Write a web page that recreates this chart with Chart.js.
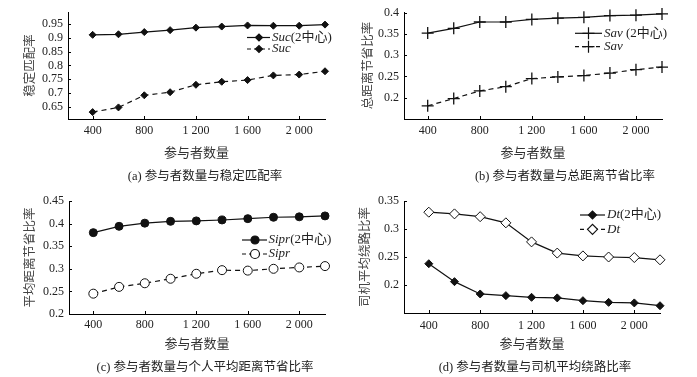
<!DOCTYPE html>
<html>
<head>
<meta charset="utf-8">
<script src="https://cdn.jsdelivr.net/npm/chart.js@4.4.1/dist/chart.umd.min.js"></script>
<style>
  body { margin: 0; background: #fff; width: 697px; height: 377px; position: relative; overflow: hidden; }
  canvas { position: absolute; }
  .cap { position: absolute; font-family: "Liberation Serif", "Noto Sans CJK SC", serif; font-size: 12.5px; color: #222; white-space: nowrap; transform: translate(-50%, -50%); }
</style>
</head>
<body>
<canvas id="ca" width="348" height="188" style="left:0;top:0"></canvas>
<canvas id="cb" width="350" height="188" style="left:347px;top:0"></canvas>
<canvas id="cc" width="348" height="189" style="left:0;top:188px"></canvas>
<canvas id="cd" width="350" height="189" style="left:347px;top:188px"></canvas>
<div class="cap" style="left:205px;top:174px">(a) 参与者数量与稳定匹配率</div>
<div class="cap" style="left:565px;top:174px">(b) 参与者数量与总距离节省比率</div>
<div class="cap" style="left:205px;top:365px">(c) 参与者数量与个人平均距离节省比率</div>
<div class="cap" style="left:535px;top:365px">(d) 参与者数量与司机平均绕路比率</div>
<script>
const X_VALUES = [400, 600, 800, 1000, 1200, 1400, 1600, 1800, 2000, 2200];
const X_TICKS = [400, 800, 1200, 1600, 2000];
const X_TITLE = '参与者数量';

const SUC_2C = [0.911, 0.913, 0.921, 0.928, 0.937, 0.941, 0.945, 0.944, 0.944, 0.948];
const SUC = [0.631, 0.648, 0.692, 0.703, 0.730, 0.741, 0.747, 0.764, 0.767, 0.779];
const SAV_2C = [0.352, 0.363, 0.378, 0.378, 0.384, 0.387, 0.389, 0.393, 0.394, 0.397];
const SAV = [0.181, 0.198, 0.216, 0.226, 0.245, 0.249, 0.252, 0.258, 0.266, 0.272];
const SIPR_2C = [0.380, 0.394, 0.401, 0.405, 0.406, 0.408, 0.411, 0.414, 0.415, 0.417];
const SIPR = [0.245, 0.260, 0.268, 0.278, 0.289, 0.297, 0.296, 0.300, 0.303, 0.306];
const DT_2C = [0.238, 0.206, 0.184, 0.181, 0.178, 0.177, 0.172, 0.169, 0.168, 0.163];
const DT = [0.330, 0.327, 0.322, 0.311, 0.277, 0.257, 0.252, 0.250, 0.249, 0.245];

const Y_TICKS_A = [0.65, 0.7, 0.75, 0.8, 0.85, 0.9, 0.95];
const Y_TICKS_B = [0.2, 0.25, 0.3, 0.35, 0.4];
const Y_TICKS_C = [0.2, 0.25, 0.3, 0.35, 0.4, 0.45];
const Y_TICKS_D = [0.2, 0.25, 0.3, 0.35];

const FONT = "'Liberation Serif', 'Noto Sans CJK SC', serif";
const INK = '#111';

function pts(arr) {
    return X_VALUES.map((x, i) => ({ x: x, y: arr[i] }));
}

function fmtX(v) {
    return v >= 1000 ? String(v).replace(/(\d)(\d{3})$/, '$1 $2') : String(v);
}

// small inward tick marks + two-row legend with line samples
const decorPlugin = {
    id: 'decor',
    afterDraw(chart, args, opts) {
        const ctx = chart.ctx;
        const xs = chart.scales.x, ys = chart.scales.y;
        ctx.save();
        ctx.strokeStyle = '#000';
        ctx.lineWidth = 1;
        ctx.beginPath();
        xs.ticks.forEach(t => {
            const px = Math.round(xs.getPixelForValue(t.value)) + 0.5;
            ctx.moveTo(px, xs.top);
            ctx.lineTo(px, xs.top - 3);
        });
        ys.ticks.forEach(t => {
            const py = Math.round(ys.getPixelForValue(t.value)) + 0.5;
            ctx.moveTo(ys.right, py);
            ctx.lineTo(ys.right + 3, py);
        });
        ctx.stroke();

        (opts.items || []).forEach((it, i) => {
            const y = opts.y + i * opts.gap;
            ctx.strokeStyle = INK;
            ctx.lineWidth = 1.2;
            ctx.setLineDash(it.dash);
            ctx.beginPath();
            ctx.moveTo(opts.x0, y);
            ctx.lineTo(opts.x1, y);
            ctx.stroke();
            ctx.setLineDash([]);
            ctx.fillStyle = it.fill;
            ctx.strokeStyle = INK;
            Chart.helpers.drawPoint(ctx, { pointStyle: it.style, radius: it.radius, borderWidth: it.bw, rotation: 0 }, opts.xm, y);
            ctx.fillStyle = '#222';
            ctx.textBaseline = 'middle';
            ctx.font = "italic 13px " + FONT;
            ctx.fillText(it.name, opts.xt, y);
            if (it.suffix) {
                const w = ctx.measureText(it.name).width;
                ctx.font = "13px " + FONT;
                ctx.fillText(it.suffix, opts.xt + w, y);
            }
        });
        ctx.restore();
    }
};

function makeChart(id, c) {
    const series = c.series.map(s => ({
        data: pts(s.data),
        borderColor: INK,
        borderWidth: 1.2,
        borderDash: s.dash,
        pointStyle: s.style,
        pointRadius: s.radius,
        pointBorderWidth: s.bw,
        pointBackgroundColor: s.fill,
        pointBorderColor: INK,
        tension: 0,
        clip: false
    }));
    return new Chart(document.getElementById(id), {
        type: 'line',
        data: { datasets: series },
        plugins: [decorPlugin],
        options: {
            responsive: false,
            animation: false,
            devicePixelRatio: 1,
            layout: { padding: c.padding },
            plugins: {
                legend: { display: false },
                tooltip: { enabled: false },
                decor: c.legend
            },
            scales: {
                x: {
                    type: 'linear',
                    min: c.xMin,
                    max: 2200,
                    grid: { display: false, drawTicks: false },
                    border: { display: true, color: '#000', width: 1 },
                    afterBuildTicks: s => { s.ticks = X_TICKS.map(v => ({ value: v })); },
                    afterFit: s => { s.height = c.xHeight; },
                    ticks: {
                        autoSkip: false, maxRotation: 0, padding: c.xTickPad,
                        color: '#222', font: { family: FONT, size: 12 },
                        callback: v => fmtX(v)
                    },
                    title: {
                        display: true, text: X_TITLE, color: '#333',
                        font: { family: FONT, size: 13 },
                        padding: { top: 0, bottom: c.xTitlePad }
                    }
                },
                y: {
                    min: c.yMin,
                    max: c.yMax,
                    grid: { display: false, drawTicks: false },
                    border: { display: true, color: '#000', width: 1 },
                    afterBuildTicks: s => { s.ticks = c.yTicks.map(v => ({ value: v })); },
                    afterFit: s => { s.width = c.yWidth; },
                    ticks: {
                        autoSkip: false, padding: 5,
                        color: '#222', font: { family: FONT, size: 12 },
                        callback: v => String(v)
                    },
                    title: {
                        display: true, text: c.yTitle, color: '#444',
                        font: { family: FONT, size: 12.5 },
                        padding: { top: c.yTitlePad, bottom: 0 }
                    }
                }
            }
        }
    });
}

const DIAMOND = { style: 'rectRot', radius: 3.5, bw: 1, fill: INK };

makeChart('ca', {
    series: [
        Object.assign({ data: SUC_2C, dash: [] }, DIAMOND),
        Object.assign({ data: SUC, dash: [5, 4] }, DIAMOND)
    ],
    xMin: 209, yMin: 0.606, yMax: 0.993, yTicks: Y_TICKS_A,
    yTitle: '稳定匹配率', yWidth: 68, yTitlePad: 23,
    xHeight: 45, xTickPad: 5, xTitlePad: 3,
    padding: { top: 8, right: 23, bottom: 24, left: 0 },
    legend: {
        x0: 247, x1: 270, xm: 259, xt: 272, y: 37.5, gap: 11.5,
        items: [
            Object.assign({ name: 'Suc', suffix: '(2中心)', dash: [] }, DIAMOND),
            Object.assign({ name: 'Suc', suffix: '', dash: [4, 3] }, DIAMOND)
        ]
    }
});

const CROSS = { style: 'cross', radius: 6, bw: 1.3, fill: INK };

makeChart('cb', {
    series: [
        Object.assign({ data: SAV_2C, dash: [] }, CROSS),
        Object.assign({ data: SAV, dash: [5, 4] }, CROSS)
    ],
    xMin: 218, yMin: 0.15, yMax: 0.401, yTicks: Y_TICKS_B,
    yTitle: '总距离节省比率', yWidth: 57, yTitlePad: 14,
    xHeight: 45, xTickPad: 5, xTitlePad: 3,
    padding: { top: 7, right: 35, bottom: 24, left: 0 },
    legend: {
        x0: 228, x1: 255, xm: 241.5, xt: 257, y: 33.3, gap: 13.4,
        items: [
            Object.assign({ name: 'Sav', suffix: ' (2中心)', dash: [] }, CROSS),
            Object.assign({ name: 'Sav', suffix: '', dash: [4, 3] }, CROSS)
        ]
    }
});

makeChart('cc', {
    series: [
        { data: SIPR_2C, dash: [], style: 'circle', radius: 4, bw: 1, fill: INK },
        { data: SIPR, dash: [5, 4], style: 'circle', radius: 4.5, bw: 1, fill: '#fff' }
    ],
    xMin: 211, yMin: 0.2, yMax: 0.45, yTicks: Y_TICKS_C,
    yTitle: '平均距离节省比率', yWidth: 69, yTitlePad: 23,
    xHeight: 40, xTickPad: 4, xTitlePad: 2,
    padding: { top: 13, right: 23, bottom: 23, left: 0 },
    legend: {
        x0: 242, x1: 267, xm: 255, xt: 268.5, y: 52, gap: 14,
        items: [
            { name: 'Sipr', suffix: '(2中心)', dash: [], style: 'circle', radius: 4, bw: 1, fill: INK },
            { name: 'Sipr', suffix: '', dash: [4, 3], style: 'circle', radius: 4.5, bw: 1, fill: '#fff' }
        ]
    }
});

makeChart('cd', {
    series: [
        { data: DT_2C, dash: [], style: 'rectRot', radius: 4, bw: 1, fill: INK },
        { data: DT, dash: [], style: 'rectRot', radius: 5, bw: 1, fill: '#fff' }
    ],
    xMin: 207, yMin: 0.15, yMax: 0.35, yTicks: Y_TICKS_D,
    yTitle: '司机平均绕路比率', yWidth: 57, yTitlePad: 11,
    xHeight: 42, xTickPad: 6, xTitlePad: 3,
    padding: { top: 13, right: 37, bottom: 22, left: 0 },
    legend: {
        x0: 233, x1: 258, xm: 245.5, xt: 260, y: 27, gap: 14.3,
        items: [
            { name: 'Dt', suffix: '(2中心)', dash: [], style: 'rectRot', radius: 4, bw: 1, fill: INK },
            { name: 'Dt', suffix: '', dash: [4, 3], style: 'rectRot', radius: 5, bw: 1, fill: '#fff' }
        ]
    }
});
</script>
</body>
</html>
